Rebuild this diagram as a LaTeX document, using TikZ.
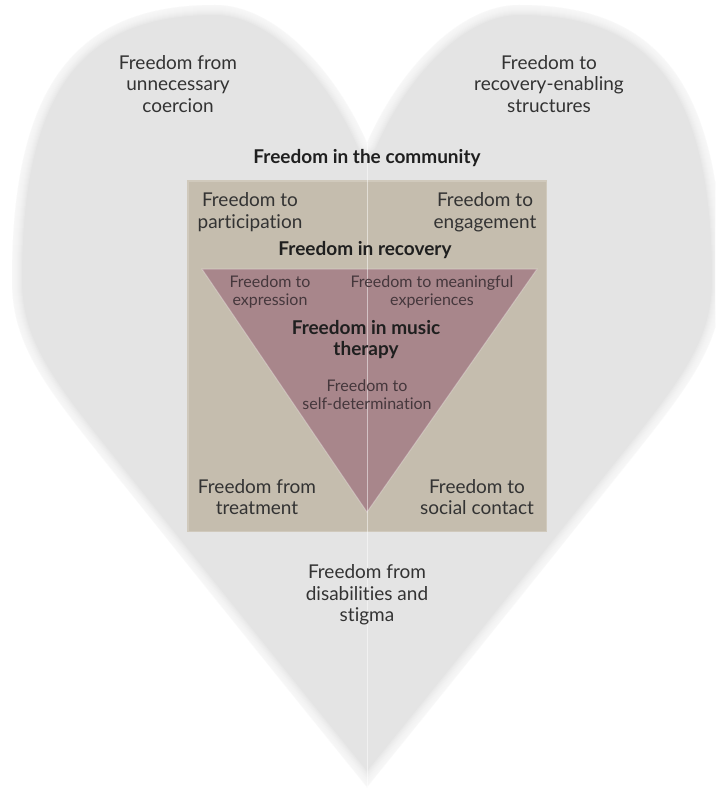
\documentclass[tikz,border=0pt]{standalone}
\usepackage{fontspec}
\setmainfont{Lato}[Ligatures=NoCommon]
\usepackage{tikz}
\usetikzlibrary{positioning, calc}

\definecolor{heartgray}{HTML}{E4E4E4}
\definecolor{boxtaupe}{HTML}{C5BDAE}
\definecolor{boxrim}{HTML}{D0C9BC}
\definecolor{trimauve}{HTML}{A8868B}
\definecolor{inktext}{HTML}{333333}
\definecolor{inkdark}{HTML}{1F1F1F}
\definecolor{inkmauve}{HTML}{45373C}

\tikzstyle{lbl}=[align=center, text=inktext, inner sep=0pt,
  font=\fontsize{19}{21.5}\selectfont]
\tikzstyle{smalllbl}=[align=center, text=inkmauve, inner sep=0pt,
  font=\fontsize{16}{18}\selectfont]
\tikzstyle{head}=[align=center, text=inkdark, inner sep=0pt,
  font=\fontsize{19}{21}\selectfont\bfseries]

% outline of the heart, one unit = 1pt, y pointing down
\newcommand{\heartoutline}{(367,787)
  .. controls (260,655) and (160,530) .. (100,455)
  .. controls (40,380) and (12,340) .. (12,280)
  .. controls (12,80) and (80,5) .. (215,5)
  .. controls (275,5) and (335,70) .. (367,143)
  .. controls (399,70) and (459,5) .. (519,5)
  .. controls (654,5) and (722,80) .. (722,280)
  .. controls (722,340) and (694,380) .. (634,455)
  .. controls (574,530) and (474,655) .. (367,787) -- cycle}

\begin{document}
\begin{tikzpicture}[x=1pt,y=-1pt]
  \useasboundingbox (0,0) rectangle (715,789);
  \clip (0,0) rectangle (715,789);

  % heart with a soft rim
  \fill[heartgray] \heartoutline;
  \foreach \w in {2,4,...,20}
    \draw[white, opacity=0.15, line width=\w pt, line join=round] \heartoutline;

  % community box
  \fill[boxtaupe] (187,180) rectangle (547,532);
  \draw[boxrim, line width=1.5pt] (187.75,180.75) rectangle (546.25,531.25);

  % music therapy triangle
  \fill[trimauve] (202,269) -- (537,269) -- (367,512) -- cycle;
  \draw[white, opacity=0.3, line width=1pt] (202,269) -- (537,269) -- (367,512) -- cycle;

  % seam down the middle
  \draw[white, opacity=0.5, line width=0.8pt] (367,143) -- (367,787);

  \node[lbl] (coercion) at (178,84) {Freedom from\\unnecessary\\coercion};
  \node[lbl] (structures) at (549,84) {Freedom to\\recovery-enabling\\structures};
  \node[head] (community) at (367,158) {Freedom in the community};

  \node[lbl] (participation) at (250,212) {Freedom to\\participation};
  \node[lbl] (engagement) at (485,212) {Freedom to\\engagement};
  \node[head] (recovery) at (365,250) {Freedom in recovery};

  \node[smalllbl] (expression) at (270,292) {Freedom to\\expression};
  \node[smalllbl] (meaningful) at (432,292) {Freedom to meaningful\\experiences};
  \node[head] (musictherapy) at (366,340) {Freedom in music\\therapy};
  \node[smalllbl] (selfdet) at (367,395) {Freedom to\\self-determination};

  \node[lbl] (treatment) at (257,497) {Freedom from\\treatment};
  \node[lbl] (social) at (477,497) {Freedom to\\social contact};
  \node[lbl] (stigma) at (367,595) {Freedom from\\disabilities and\\stigma};
\end{tikzpicture}
\end{document}
